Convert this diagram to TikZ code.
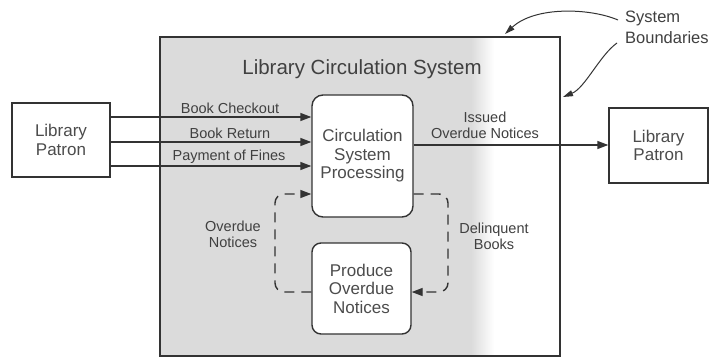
\documentclass[tikz,border=0pt]{standalone}
\usepackage{fontspec}
\setmainfont{Liberation Sans}
\usetikzlibrary{arrows.meta}
\begin{document}
\begin{tikzpicture}[x=1pt,y=-1pt,
  box/.style={draw=black!80, fill=white, line width=1.4pt, inner sep=0pt,
    font=\fontsize{17}{18.5}\selectfont, align=center, text=black!70},
  lbl/.style={font=\fontsize{14.5}{16}\selectfont, align=center, text=black!75, inner sep=0pt},
  flow/.style={-{Triangle[length=11pt,width=8pt]}, line width=1.4pt, draw=black!80},
  dashflow/.style={flow, dash pattern=on 10pt off 7pt, rounded corners=9pt},
  bnd/.style={-{Triangle[length=10pt,width=6pt]}, line width=1pt, draw=black!80}
]
\useasboundingbox (0,0) rectangle (711,358);
\fill[white] (0,0) rectangle (711,358);
% shaded part of the system
\fill[gray!28] (160,37) rectangle (472,356);
\shade[left color=gray!28, right color=white] (471,37) rectangle (494,356);
\node[draw=black!80, line width=1.4pt, minimum width=400pt, minimum height=319pt, inner sep=0pt] (sys) at (360,196.5) {};

\node[font=\fontsize{20.5}{22}\selectfont, text=black!75, anchor=base] (title) at (362,75) {Library Circulation System};

% boxes
\node[box, minimum width=98pt, minimum height=74pt] (lp) at (61,140) {Library\\Patron};
\node[box, minimum width=99pt, minimum height=75pt] (rp) at (658.5,145.5) {Library\\Patron};
\node[box, rounded corners=11pt, minimum width=101pt, minimum height=122pt] (csp) at (362.5,156) {Circulation\\System\\Processing};
\node[box, rounded corners=9pt, minimum width=99pt, minimum height=91pt] (pon) at (361.5,288.5) {Produce\\Overdue\\Notices};

% level coordinates
\coordinate (y1) at (0,117);
\coordinate (y2) at (0,142);
\coordinate (y3) at (0,166);
\coordinate (y4) at (0,145);
\coordinate (yd1) at (0,194);
\coordinate (yd2) at (0,292);
\coordinate (xr) at (448,0);
\coordinate (xl) at (275,0);

% input flows
\draw[flow] (lp.east |- y1) -- (csp.west |- y1);
\draw[flow] (lp.east |- y2) -- (csp.west |- y2);
\draw[flow] (lp.east |- y3) -- (csp.west |- y3);
\node[lbl] (l1) at (230,108) {Book Checkout};
\node[lbl] (l2) at (230,133) {Book Return};
\node[lbl] (l3) at (229,157) {Payment of Fines};

% output flow
\draw[flow] (csp.east |- y4) -- (rp.west |- y4);
\node[lbl] (l4) at (485,125) {Issued\\Overdue Notices};

% dashed loop
\draw[dashflow] (csp.east |- yd1) -- (xr |- yd1) -- (xr |- yd2) -- (pon.east |- yd2);
\draw[dashflow] (pon.west |- yd2) -- (xl |- yd2) -- (xl |- yd1) -- (csp.west |- yd1);
\node[lbl] (l5) at (233,234) {Overdue\\Notices};
\node[lbl] (l6) at (494,236) {Delinquent\\Books};

% system boundaries label
\node[font=\fontsize{16.5}{21}\selectfont, text=black!75, anchor=base west, inner sep=0pt] (sb1) at (625,22.5) {System};
\node[font=\fontsize{16.5}{21}\selectfont, text=black!75, anchor=base west, inner sep=0pt] (sb2) at (625,43.5) {Boundaries};
\coordinate (s1) at (618,20);
\coordinate (t1) at (505,34);
\coordinate (s2) at (617,43);
\coordinate (t2) at (563,97);
\draw[bnd] (s1) .. controls (590,8) and (535,6) .. (t1);
\draw[bnd] (s2) .. controls (600,55) and (585,88) .. (t2);
\end{tikzpicture}
\end{document}
